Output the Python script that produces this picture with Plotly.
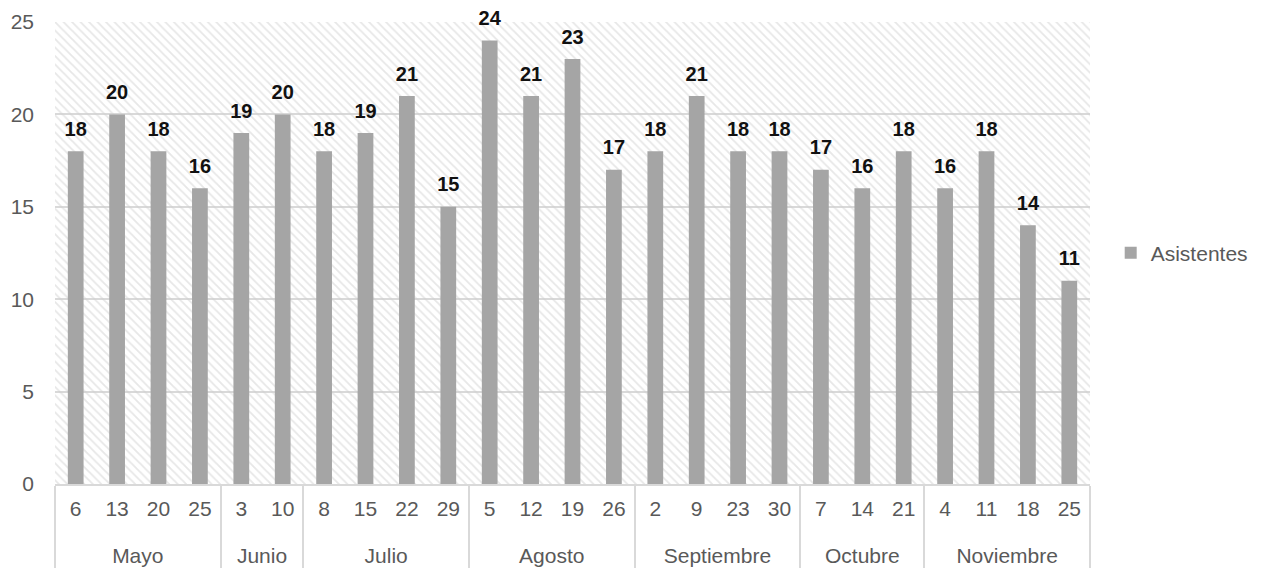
import plotly.graph_objects as go

months = ["Mayo"] * 4 + ["Junio"] * 2 + ["Julio"] * 4 + ["Agosto"] * 4 + \
         ["Septiembre"] * 4 + ["Octubre"] * 3 + ["Noviembre"] * 4
days = ["6", "13", "20", "25", "3", "10", "8", "15", "22", "29",
        "5", "12", "19", "26", "2", "9", "23", "30", "7", "14", "21",
        "4", "11", "18", "25"]
asistentes = [18, 20, 18, 16, 19, 20, 18, 19, 21, 15,
              24, 21, 23, 17, 18, 21, 18, 18, 17, 16, 18,
              16, 18, 14, 11]
y_max = 25

# make repeated day labels unique (zero-width spaces) so plotly keeps the order;
# an empty second line gives room between the two label rows
seen = {}
day_labels = []
for d in days:
    n = seen.get(d, 0)
    day_labels.append(d + "\u200b" * n + "<br> ")
    seen[d] = n + 1

fig = go.Figure()

# hatched plot background
fig.add_trace(go.Bar(
    x=[0.5], y=[y_max], width=[1], xaxis="x", yaxis="y",
    marker=dict(color="rgba(0,0,0,0)", line=dict(width=0),
                pattern=dict(shape="\\", fgcolor="#cfcfcf", bgcolor="rgba(0,0,0,0)",
                             size=6, solidity=0.3)),
    showlegend=False, hoverinfo="skip",
))

fig.add_trace(go.Bar(
    x=[months, day_labels], y=asistentes, name="Asistentes",
    xaxis="x2", yaxis="y",
    marker=dict(color="#a5a5a5", line=dict(width=0)),
    hovertemplate="%{y}<extra></extra>",
))

# value labels, lifted above the bar tops
fig.add_trace(go.Scatter(
    x=[months, day_labels], y=asistentes, xaxis="x2", yaxis="y",
    mode="markers+text", text=[str(v) for v in asistentes],
    textposition="top center",
    marker=dict(size=15, opacity=0),
    textfont=dict(family="Liberation Sans", size=20, color="#111111", weight="bold"),
    cliponaxis=False, showlegend=False, hoverinfo="skip",
))

fig.update_layout(
    width=1247, height=563,
    margin=dict(l=47, r=165, t=14, b=87, autoexpand=False),
    paper_bgcolor="white", plot_bgcolor="white",
    font=dict(family="Liberation Sans", size=21, color="#595959"),
    bargap=0.62,
    showlegend=True,
    legend=dict(x=1.02, y=0.5, xanchor="left", yanchor="middle",
                font=dict(size=21, color="#595959")),
    xaxis=dict(range=[0, 1], visible=False, fixedrange=True),
    xaxis2=dict(overlaying="x", side="bottom", type="multicategory",
                range=[-0.5, len(days) - 0.5], autorange=False,
                showline=True, linecolor="#d9d9d9", linewidth=1.5,
                showdividers=True, dividercolor="#d9d9d9", dividerwidth=1.5,
                tickfont=dict(size=21, color="#595959"), showgrid=False,
                ticklabelstandoff=5),
    yaxis=dict(range=[0, y_max], tick0=0, dtick=5, showgrid=True,
               gridcolor="#d9d9d9", gridwidth=1.5, zeroline=False, showline=False,
               tickfont=dict(size=21, color="#595959"), ticks="", ticklabelstandoff=20),
)

fig.write_html("out.html")
